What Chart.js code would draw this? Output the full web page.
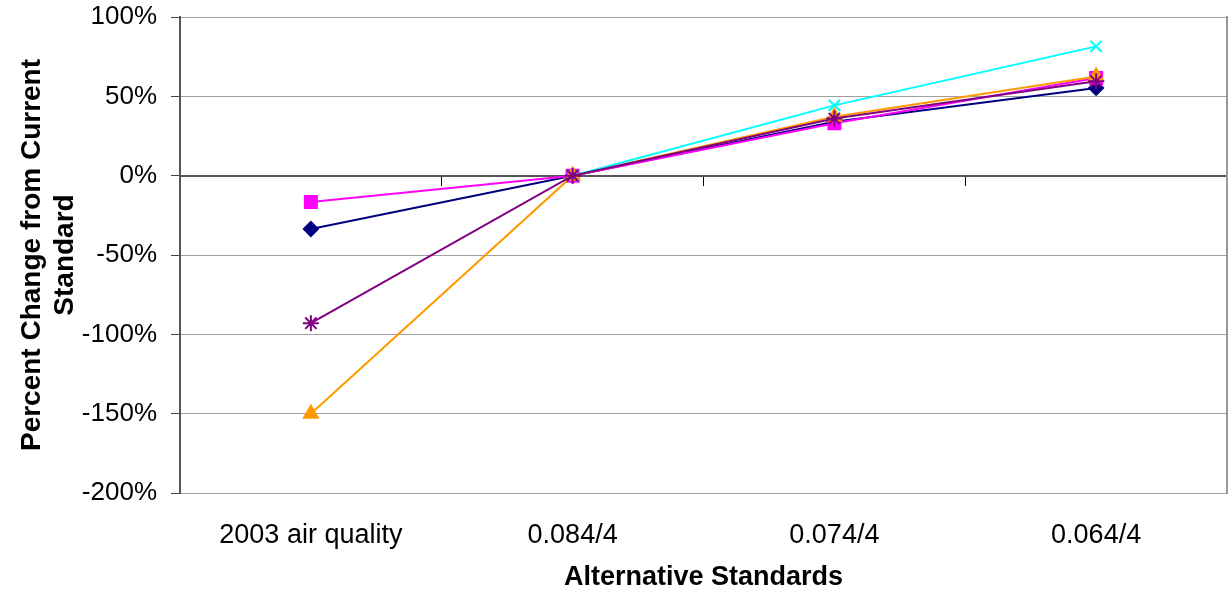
<!DOCTYPE html>
<html>
<head>
<meta charset="utf-8">
<script src="https://cdn.jsdelivr.net/npm/chart.js@4.4.1/dist/chart.umd.min.js"></script>
<style>
  html, body { margin: 0; padding: 0; background: #fff; }
  #wrap { width: 1228px; height: 594px; }
</style>
</head>
<body>
<div id="wrap"><canvas id="chart" width="1228" height="594"></canvas></div>
<script>
// categories on the x axis
var categories = ['2003 air quality', '0.084/4', '0.074/4', '0.064/4'];

// percent change per series
var seriesNavy    = [-33.6, 0, 34.0, 55.3];
var seriesMagenta = [-16.6, 0, 33.0, 61.5];
var seriesOrange  = [-150,  0, 37.2, 62.5];
var seriesCyan    = [null,  0, 44.3, 81.5];
var seriesPurple  = [-93,   0, 36.0, 59.5];

var yTicks = [-200, -150, -100, -50, 0, 50, 100];

var fam = 'Arial, "Liberation Sans", sans-serif';
var tickFont = { family: fam, size: 26 };
var catFont = { family: fam, size: 27 };
var boldFont = { family: fam, size: 27, weight: 'bold' };
var yTitleFont = { family: fam, size: 28, weight: 'bold' };

function line(data, color, style, radius, order) {
  return {
    data: data,
    borderColor: color,
    backgroundColor: color,
    borderWidth: 2,
    pointStyle: style,
    pointRadius: radius,
    pointBorderColor: color,
    pointBackgroundColor: color,
    pointBorderWidth: 2,
    tension: 0,
    spanGaps: false,
    order: order,
    xAxisID: 'x',
    yAxisID: 'y'
  };
}

// no extra padding from tick labels; the layout is fixed by hand
function noPad(s) {
  s.paddingTop = 0; s.paddingBottom = 0; s.paddingLeft = 0; s.paddingRight = 0;
}

var chart = new Chart(document.getElementById('chart'), {
  type: 'line',
  data: {
    labels: categories,
    datasets: [
      line(seriesNavy, '#000080', 'rectRot', 7, 5),
      line(seriesMagenta, '#FF00FF', 'rect', 8.5, 4),
      line(seriesOrange, '#FF9900', 'triangle', 8, 3),
      line(seriesCyan, '#00FFFF', 'crossRot', 8, 2),
      line(seriesPurple, '#800080', 'star', 8, 1)
    ]
  },
  options: {
    responsive: false,
    animation: false,
    layout: { autoPadding: false, padding: { top: 17, right: 0, left: 0, bottom: 0 } },
    plugins: {
      legend: { display: false },
      tooltip: { enabled: false }
    },
    scales: {
      x: {
        type: 'category',
        position: 'bottom',
        offset: true,
        grid: { display: false },
        border: { display: false },
        ticks: { font: catFont, color: '#000', padding: 18, maxRotation: 0, autoSkip: false },
        title: { display: true, text: 'Alternative Standards', font: boldFont, color: '#000', padding: { top: 0, bottom: 0 } },
        afterFit: function(s) { s.height = 101; noPad(s); }
      },
      x2: {
        type: 'category',
        axis: 'x',
        labels: categories,
        position: { y: 0 },
        offset: true,
        grid: { offset: true, drawOnChartArea: false, drawTicks: true, tickLength: 9, color: '#000' },
        ticks: { display: false },
        border: { color: '#555', width: 2 },
        afterFit: noPad
      },
      y: {
        min: -200,
        max: 100,
        afterBuildTicks: function(s) { s.ticks = yTicks.map(function(v) { return { value: v }; }); },
        ticks: { font: tickFont, color: '#000', padding: 14, callback: function(v) { return v + '%'; } },
        grid: { color: '#a0a0a0', lineWidth: 1, tickLength: 9, tickColor: '#444' },
        border: { color: '#555', width: 2 },
        title: {
          display: true,
          text: ['Percent Change from Current', 'Standard'],
          font: yTitleFont,
          color: '#000',
          padding: { top: 15, bottom: 0 }
        },
        afterFit: function(s) { s.width = 180; noPad(s); }
      },
      y2: {
        position: 'right',
        min: -200,
        max: 100,
        ticks: { display: false },
        grid: { display: false, drawTicks: false },
        border: { color: '#999', width: 2 },
        afterFit: function(s) { s.width = 1; noPad(s); }
      }
    }
  }
});
</script>
</body>
</html>
